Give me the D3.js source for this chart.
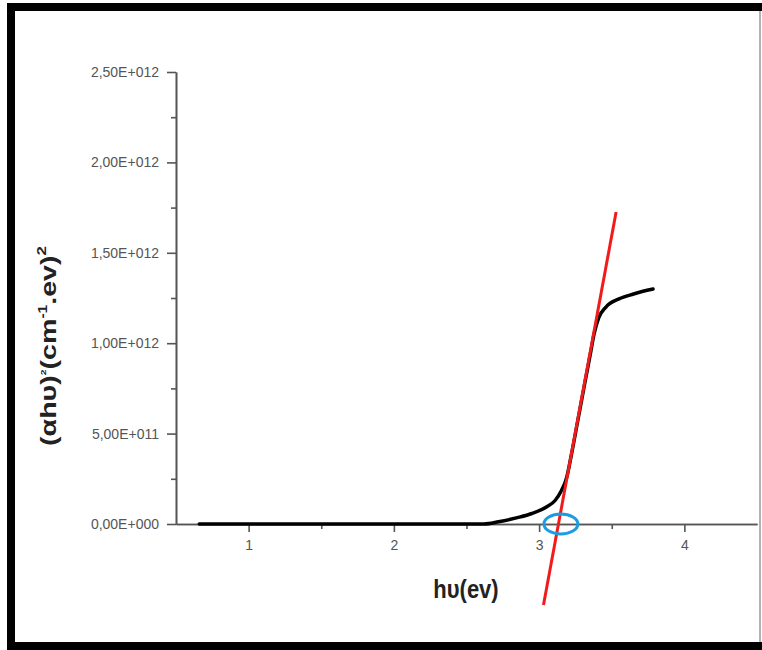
<!DOCTYPE html>
<html>
<head>
<meta charset="utf-8">
<script src="https://cdn.jsdelivr.net/npm/d3@7"></script>
<style>
  body { margin: 0; background: #fff; }
  svg { display: block; }
</style>
</head>
<body>
<main></main>
<script>
// Data
const curveX = [0.66, 1.2, 1.8, 2.3, 2.62, 2.72, 2.85, 2.95, 3.05, 3.11, 3.15, 3.19, 3.222, 3.267, 3.312, 3.355, 3.378, 3.41, 3.46, 3.55, 3.65, 3.715, 3.784];
const curveY = [0, 0, 0, 0, 0, 0.012e12, 0.035e12, 0.058e12, 0.094e12, 0.13e12, 0.18e12, 0.258e12, 0.382e12, 0.575e12, 0.769e12, 0.951e12, 1.05e12, 1.14e12, 1.2e12, 1.245e12, 1.272e12, 1.287e12, 1.30e12];
const fitX = [3.03, 3.53];
const fitY = [-0.448e12, 1.726e12];
const gapX = 3.15;
const xTicks = [1, 2, 3, 4];
const yTicks = [0, 0.5e12, 1e12, 1.5e12, 2e12, 2.5e12];
const yTickLabels = ["0,00E+000", "5,00E+011", "1,00E+012", "1,50E+012", "2,00E+012", "2,50E+012"];

// Set dimensions
const w = 762;
const h = 650;

const svg = d3
  .select("main")
  .append("svg")
  .attr("width", w)
  .attr("height", h);

// Frame
svg.append("rect")
  .attr("x", 11).attr("y", 7)
  .attr("width", 760).attr("height", 639)
  .attr("fill", "none")
  .attr("stroke", "#000")
  .attr("stroke-width", 8);
svg.append("line")
  .attr("x1", 760).attr("x2", 760).attr("y1", 11).attr("y2", 642)
  .attr("stroke", "#999").attr("stroke-width", 1.5);

// Scales
const xScale = d3.scaleLinear().domain([0.5, 4.5]).range([176, 757]);
const yScale = d3.scaleLinear().domain([0, 2.5e12]).range([524, 72]);

const axisColor = "#555";
const fontFam = "'Liberation Sans', Arial, sans-serif";

// X axis
svg.append("g")
  .attr("transform", `translate(0, ${yScale(0)})`)
  .call(d3.axisBottom(xScale).tickValues(xTicks).tickSize(8).tickPadding(8).tickSizeOuter(0).tickFormat(d3.format("d")));
svg.append("g")
  .attr("transform", `translate(0, ${yScale(0)})`)
  .call(d3.axisBottom(xScale).tickValues([1.5, 2.5, 3.5]).tickSize(5).tickFormat("").tickSizeOuter(0));

// Y axis
svg.append("g")
  .attr("transform", `translate(${xScale(0.5)}, 0)`)
  .call(d3.axisLeft(yScale).tickValues(yTicks).tickSize(9).tickPadding(8).tickSizeOuter(0)
    .tickFormat((d, i) => yTickLabels[i]));
svg.append("g")
  .attr("transform", `translate(${xScale(0.5)}, 0)`)
  .call(d3.axisLeft(yScale).tickValues([0.25e12, 0.75e12, 1.25e12, 1.75e12, 2.25e12]).tickSize(5).tickFormat("").tickSizeOuter(0));

svg.selectAll(".domain, .tick line")
  .attr("stroke", axisColor)
  .attr("stroke-width", 1.6);
svg.selectAll(".tick text")
  .attr("fill", "#555")
  .attr("font-family", fontFam)
  .attr("font-size", 14);

// Axis labels
svg.append("text")
  .attr("transform", "translate(466, 598) scale(1, 1.15)")
  .attr("text-anchor", "middle")
  .attr("font-family", fontFam)
  .attr("font-weight", "bold")
  .attr("font-size", 22)
  .attr("fill", "#222")
  .text("hυ(ev)");

const yLabel = svg.append("text")
  .attr("transform", "translate(56, 346) rotate(-90) scale(1.3, 1)")
  .attr("text-anchor", "middle")
  .attr("font-family", fontFam)
  .attr("font-weight", "bold")
  .attr("font-size", 22)
  .attr("fill", "#222");
yLabel.append("tspan").text("(αhυ)");
yLabel.append("tspan").attr("font-size", 8).attr("dy", -10).text("2");
yLabel.append("tspan").attr("dy", 10).text("(cm");
yLabel.append("tspan").attr("font-size", 12).attr("dy", -9).text("-1");
yLabel.append("tspan").attr("dy", 9).text(".ev)");
yLabel.append("tspan").attr("font-size", 13).attr("dy", -10).text("2");

// Data curve
const curve = curveX.map((x, i) => [x, curveY[i]]);
const line = d3.line()
  .x((d) => xScale(d[0]))
  .y((d) => yScale(d[1]))
  .curve(d3.curveMonotoneX);

svg.append("path")
  .datum(curve)
  .attr("d", line)
  .attr("fill", "none")
  .attr("stroke", "#000")
  .attr("stroke-width", 3.5)
  .attr("stroke-linecap", "round");

// Linear fit
svg.append("path")
  .datum(fitX.map((x, i) => [x, fitY[i]]))
  .attr("d", d3.line().x((d) => xScale(d[0])).y((d) => yScale(d[1])))
  .attr("fill", "none")
  .attr("stroke", "#f21b1b")
  .attr("stroke-width", 3);

// Band gap marker
svg.append("ellipse")
  .attr("cx", xScale(gapX))
  .attr("cy", yScale(0))
  .attr("rx", 17)
  .attr("ry", 10)
  .attr("fill", "none")
  .attr("stroke", "#1d9be3")
  .attr("stroke-width", 3);
</script>
</body>
</html>
